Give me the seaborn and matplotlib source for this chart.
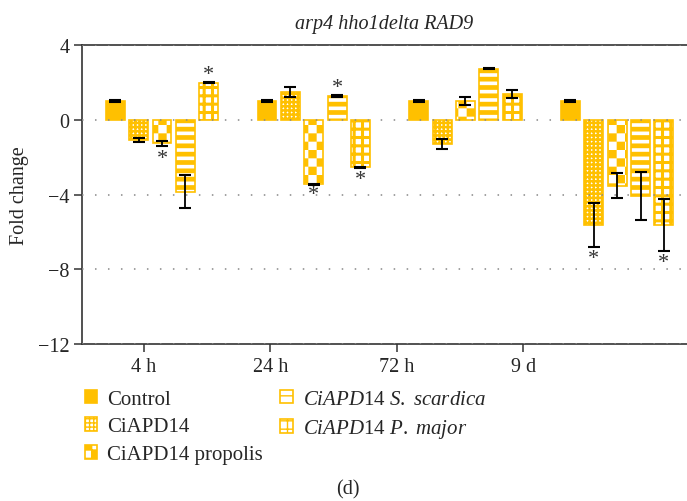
import warnings

import matplotlib
matplotlib.use("Agg")
import matplotlib.hatch as mhatch
import matplotlib.pyplot as plt
import numpy as np
import pandas as pd
import seaborn as sns
from matplotlib.patches import Patch
from matplotlib.path import Path

warnings.filterwarnings("ignore")

# values
times = ["4 h", "24 h", "72 h", "9 d"]
treatments = ["Control", "CiAPD14", "CiAPD14 propolis",
              "CiAPD14 S. scardica", "CiAPD14 P. major"]
control = [1.0, 1.0, 1.0, 1.0]
ciapd14 = [-1.07, 1.48, -1.3, -5.65]
propolis = [-1.27, -3.46, 1.0, -3.52]
scardica = [-3.86, 1.27, 2.73, -4.08]
pmajor = [1.98, -2.55, 1.38, -5.63]
control_err = [0.03, 0.03, 0.03, 0.03]
ciapd14_err = [0.1, 0.28, 0.25, 1.17]
propolis_err = [0.12, 0.03, 0.22, 0.69]
scardica_err = [0.88, 0.04, 0.04, 1.3]
pmajor_err = [0.03, 0.04, 0.23, 1.39]
stars = [
    ("4 h", "CiAPD14 propolis", -2.05),
    ("4 h", "CiAPD14 P. major", 2.42),
    ("24 h", "CiAPD14 propolis", -4.02),
    ("24 h", "CiAPD14 S. scardica", 1.75),
    ("24 h", "CiAPD14 P. major", -3.2),
    ("9 d", "CiAPD14", -7.45),
    ("9 d", "CiAPD14 P. major", -7.62),
]
legend_labels = [
    "Control",
    "CiAPD14",
    "CiAPD14 propolis",
    r"$\mathit{CiAPD}$14 $\mathit{S.\ scardica}$",
    r"$\mathit{CiAPD}$14 $\mathit{P.\ major}$",
]

YELLOW = "#FFC000"


class CheckerHatch(mhatch.HatchPatternBase):
    """filled checkerboard squares, hatch character 'c'"""

    def __init__(self, hatch, density):
        self.cells = hatch.count("c") * density
        self.num_vertices = 5 * ((self.cells * self.cells + 1) // 2)

    def set_vertices_and_codes(self, vertices, codes):
        n = self.cells
        s = 1.0 / n
        k = 0
        for i in range(n):
            for j in range(n):
                if (i + j) % 2:
                    continue
                x, y = i * s, j * s
                vertices[k:k + 5] = [(x, y), (x + s, y), (x + s, y + s),
                                     (x, y + s), (x, y)]
                codes[k:k + 5] = [Path.MOVETO, Path.LINETO, Path.LINETO,
                                  Path.LINETO, Path.CLOSEPOLY]
                k += 5


mhatch._hatch_types.append(CheckerHatch)

# face colour, hatch, hatch linewidth for each treatment
styles = [
    (YELLOW, None, 1.0),
    ("white", "++++", 1.8),
    ("white", "cc", 0.0),
    ("white", "--", 3.4),
    ("white", "++", 2.2),
]


def style_patch(patch, face, hatch, hlw):
    patch.set_facecolor(face)
    patch.set_edgecolor(YELLOW)
    patch.set_hatch(hatch)
    if hasattr(patch, "set_hatch_linewidth"):
        patch.set_hatch_linewidth(hlw)
    else:
        patch._hatch_linewidth = hlw


def main():
    values = [control, ciapd14, propolis, scardica, pmajor]
    errors = [control_err, ciapd14_err, propolis_err, scardica_err, pmajor_err]
    frame = pd.DataFrame(
        [
            {"time": t, "treatment": name, "value": v}
            for name, series in zip(treatments, values)
            for t, v in zip(times, series)
        ]
    )

    sns.set_theme(style="ticks")
    plt.rcParams["font.family"] = ["Liberation Serif", "DejaVu Serif"]
    plt.rcParams["mathtext.fontset"] = "custom"
    plt.rcParams["mathtext.rm"] = "Liberation Serif"
    plt.rcParams["mathtext.it"] = "Liberation Serif:italic"
    plt.rcParams["hatch.color"] = YELLOW

    fig = plt.figure(figsize=(6.87, 5.02), dpi=100)
    ax = fig.add_axes([0.119, 0.3127, 0.881, 0.5957])

    sns.barplot(
        data=frame, x="time", y="value", hue="treatment",
        order=times, hue_order=treatments,
        palette=dict.fromkeys(treatments, YELLOW),
        width=0.77, gap=0.19, errorbar=None, legend=False,
        saturation=1, linewidth=1.2, edgecolor=YELLOW, ax=ax,
    )

    for container, (face, hatch, hlw), series, err in zip(
        ax.containers, styles, values, errors
    ):
        xs = []
        for bar in container:
            style_patch(bar, face, hatch, hlw)
            xs.append(bar.get_x() + bar.get_width() / 2)
        ax.errorbar(xs, series, yerr=err, fmt="none", ecolor="black",
                    elinewidth=1.3, capsize=4.3, capthick=1.5, zorder=3)

    for t, name, y in stars:
        bar = ax.containers[treatments.index(name)][times.index(t)]
        ax.text(bar.get_x() + bar.get_width() / 2, y, "*", ha="center",
                va="center", fontsize=16, color="#333333")

    ax.set_xlim(-0.529, 3.46)
    ax.set_ylim(-12, 4)
    ax.set_yticks([4, 0, -4, -8, -12])
    ax.set_xticks(np.arange(len(times)) * 5 / 6 - 0.12)
    ax.set_xticklabels(times)
    ax.tick_params(axis="both", labelsize=14.5, length=6, width=1.1,
                   color="#333333", pad=3)
    ax.set_xlabel("")
    ax.set_ylabel("Fold change", fontsize=14.5, labelpad=6)
    ax.set_title("arp4 hho1delta RAD9", fontstyle="italic", fontsize=14.5,
                 pad=12)

    ax.yaxis.grid(True, color="#888888", linestyle=(0, (1, 7.5)),
                  linewidth=1.1)
    ax.set_axisbelow(False)
    ax.spines["right"].set_visible(False)
    for side in ["left", "bottom", "top"]:
        ax.spines[side].set_color("#333333")
        ax.spines[side].set_linewidth(1.2)

    handles = []
    for face, hatch, hlw in styles:
        p = Patch(facecolor=face, edgecolor=YELLOW, linewidth=1.2)
        style_patch(p, face, hatch, hlw)
        handles.append(p)
    fig.legend(handles, legend_labels, loc="upper left",
               bbox_to_anchor=(0.123, 0.222), ncol=2, frameon=False,
               fontsize=15, handlelength=0.62, handleheight=0.62,
               handletextpad=0.45, columnspacing=0.85, labelspacing=0.42,
               borderpad=0, borderaxespad=0)

    fig.text(0.507, 0.024, "(d)", ha="center", va="center", fontsize=14.5)
    fig.savefig("out.png", dpi=100)


if __name__ == "__main__":
    main()
